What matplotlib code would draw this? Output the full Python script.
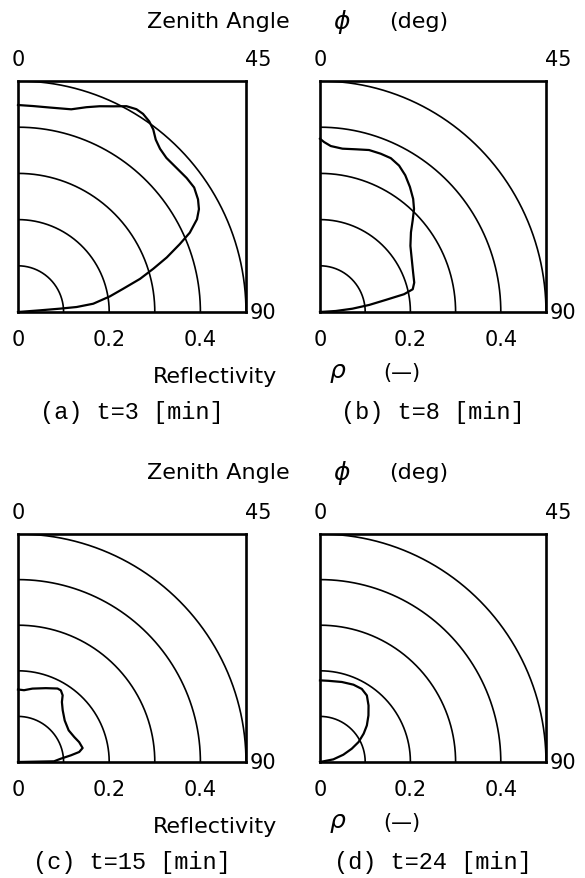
import numpy as np
import matplotlib.pyplot as plt

# zenith angle phi [deg] and reflectivity rho [-]
phi_a = [0, 4.2, 8.9, 14.9, 18.7, 21.9, 25.2, 28.1, 30.6, 32.6, 34.9, 36.9,
         39.0, 41.4, 44.3, 48.1, 51.9, 55.1, 58.3, 60.7, 62.9, 65.5, 67.5,
         70.1, 72.5, 75.0, 77.7, 80.5, 83.8, 85.2, 85.5, 85.7, 90]
rho_a = [0.448, 0.447, 0.448, 0.454, 0.468, 0.480, 0.492, 0.505, 0.510,
         0.509, 0.503, 0.494, 0.480, 0.471, 0.466, 0.467, 0.470, 0.471,
         0.464, 0.455, 0.441, 0.414, 0.384, 0.347, 0.311, 0.277, 0.236,
         0.204, 0.166, 0.129, 0.092, 0.048, 0]

phi_b = [0, 1.4, 3.8, 8.0, 12.7, 17.2, 21.4, 25.2, 28.9, 32.5, 36.3, 40.1,
         43.0, 46.0, 49.4, 54.4, 60.6, 67.5, 73.0, 76.5, 78.3, 79.8, 82.0,
         84.3, 86.4, 90]
rho_b = [0.375, 0.368, 0.360, 0.357, 0.361, 0.367, 0.368, 0.368, 0.362,
         0.351, 0.336, 0.320, 0.305, 0.285, 0.265, 0.246, 0.233, 0.223,
         0.218, 0.211, 0.190, 0.148, 0.110, 0.072, 0.035, 0]

phi_c = [0, 4.8, 11.1, 20.6, 28.3, 30.9, 33.8, 36.2, 40.8, 48.4, 58.0, 66.1,
         72.0, 77.8, 80.7, 82.8, 85.6, 88.9, 90]
rho_c = [0.159, 0.158, 0.164, 0.173, 0.183, 0.183, 0.176, 0.163, 0.150,
         0.137, 0.131, 0.135, 0.141, 0.145, 0.136, 0.117, 0.094, 0.079, 0]

phi_d = [0, 5.9, 15.4, 23.6, 30.0, 35.4, 40.9, 46.4, 52.3, 57.2, 62.8, 67.5,
         72.8, 78.9, 82]
rho_d = [0.179, 0.179, 0.182, 0.185, 0.185, 0.179, 0.164, 0.148, 0.131,
         0.115, 0.096, 0.076, 0.054, 0.030, 0]

captions = ['(a) t=3 [min]', '(b) t=8 [min]', '(c) t=15 [min]', '(d) t=24 [min]']
circle_radii = [0.1, 0.2, 0.3, 0.4, 0.5]
rho_ticks = [0, 0.2, 0.4]
rho_ticklabels = ['0', '0.2', '0.4']

W, H = 585, 879
fig = plt.figure(figsize=(W / 100, H / 100), dpi=100)


def fx(x):
    return x / W


def fy(y):
    return 1 - y / H


# panel boxes in pixels (left, top, right, bottom)
boxes = [(18, 82, 246, 313), (320, 82, 546, 313),
         (18, 535, 246, 763), (320, 535, 546, 763)]
curves = [(phi_a, rho_a), (phi_b, rho_b), (phi_c, rho_c), (phi_d, rho_d)]

t = np.linspace(0, np.pi / 2, 200)
for (x0, y0, x1, y1), (phi, rho), cap in zip(boxes, curves, captions):
    ax = fig.add_axes([fx(x0), fy(y1), (x1 - x0) / W, (y1 - y0) / H])
    ax.set_xlim(0, 0.5)
    ax.set_ylim(0, 0.5)
    for r in circle_radii:
        ax.plot(r * np.sin(t), r * np.cos(t), color='black', lw=1.2)
    p = np.deg2rad(phi)
    ax.plot(np.array(rho) * np.sin(p), np.array(rho) * np.cos(p),
            color='black', lw=1.6, clip_on=False, solid_joinstyle='round')
    for s in ax.spines.values():
        s.set_linewidth(1.9)
    ax.set_xticks(rho_ticks, rho_ticklabels)
    ax.set_yticks([])
    ax.tick_params(axis='x', length=0, pad=12, labelsize=15)

    # zenith angle marks: 0 at the vertical, 45 at the corner, 90 at the horizontal
    ax.text(0, 1 + 22 / (y1 - y0), '0', transform=ax.transAxes,
            ha='center', va='center', fontsize=15)
    ax.text(1 - 1 / (x1 - x0), 1 + 22 / (y1 - y0), '45', transform=ax.transAxes,
            ha='left', va='center', fontsize=15)
    ax.text(1 + 4 / (x1 - x0), 0, '90', transform=ax.transAxes,
            ha='left', va='center', fontsize=15)

    fig.text(fx((x0 + x1) / 2), fy(y1 + 100), cap, ha='center', va='center',
             family='Liberation Mono', fontsize=17)

# shared axis titles
for ytop in (22, 473):
    fig.text(fx(218), fy(ytop), 'Zenith Angle', ha='center', va='center', fontsize=16)
    fig.text(fx(342), fy(ytop), r'$\phi$', ha='center', va='center', fontsize=18)
    fig.text(fx(419), fy(ytop), '(deg)', ha='center', va='center', fontsize=16)

for ybot in (313, 763):
    fig.text(fx(215), fy(ybot + 70), 'Reflectivity', ha='center', va='baseline',
             fontsize=16)
    fig.text(fx(338), fy(ybot + 60), r'$\rho$', ha='center', va='center', fontsize=18)
    fig.text(fx(402), fy(ybot + 60), '(—)', ha='center', va='center', fontsize=15)

fig.savefig('out.png', dpi=100)
